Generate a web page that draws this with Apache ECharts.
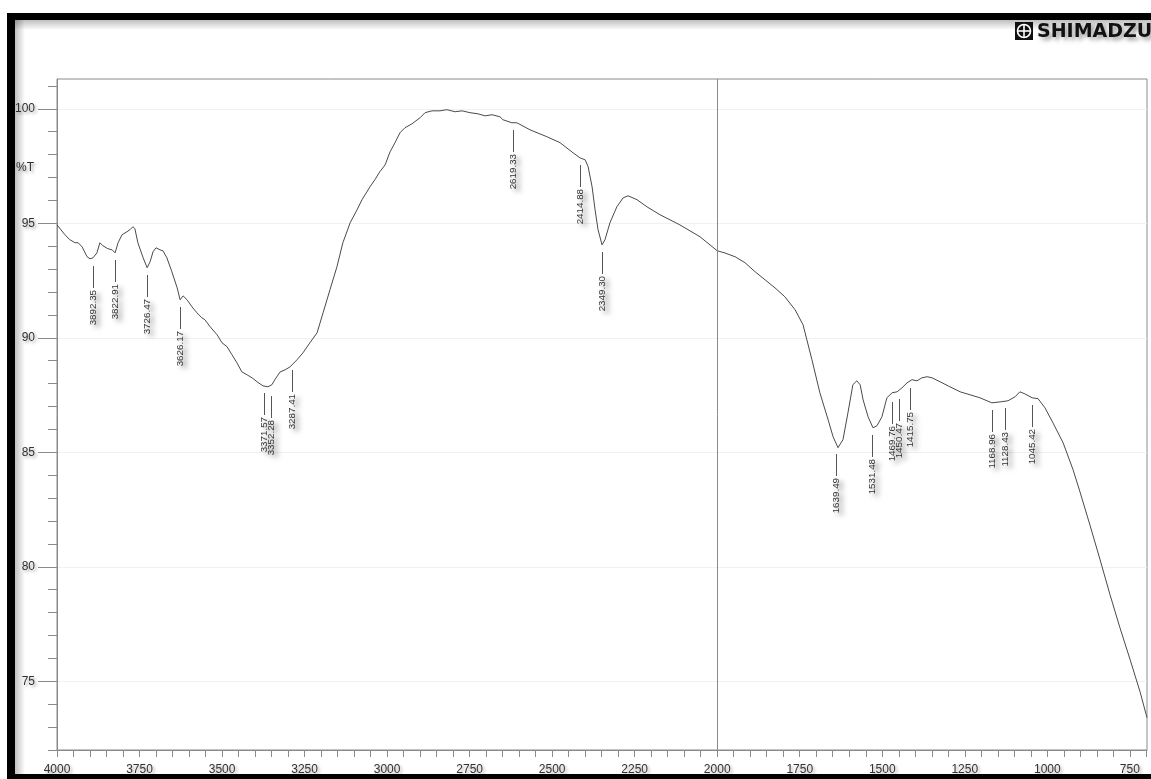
<!DOCTYPE html>
<html>
<head>
<meta charset="utf-8">
<title>IR spectrum</title>
<script src="https://cdn.jsdelivr.net/npm/echarts@6/dist/echarts.min.js"></script>
<style>
	html, body {margin: 0; padding: 0; background: #fff;}
	#main {width: 1151px; height: 779px;}
</style>
</head>
<body>
<div id="main"></div>
<script>
// spectrum trace (cm-1, %T)
const wavenumber = [
	4000, 3976, 3961, 3945, 3936, 3924, 3909, 3900, 3891, 3879, 3870, 3861, 3846, 3833, 3824, 3815,
	3803, 3788, 3779, 3770, 3764, 3755, 3739, 3727, 3718, 3709, 3700, 3688, 3679, 3667, 3652, 3636,
	3627, 3618, 3606, 3591, 3576, 3561, 3552, 3536, 3515, 3500, 3485, 3470, 3455, 3440, 3424, 3409,
	3394, 3376, 3361, 3349, 3340, 3324, 3309, 3294, 3273, 3255, 3234, 3212, 3194, 3173, 3152, 3134,
	3112, 3091, 3076, 3052, 3037, 3022, 3006, 2991, 2976, 2961, 2946, 2925, 2900, 2885, 2864, 2840,
	2819, 2794, 2773, 2749, 2725, 2703, 2682, 2658, 2649, 2622, 2607, 2567, 2516, 2476, 2437, 2416,
	2400, 2391, 2379, 2370, 2361, 2349, 2340, 2325, 2304, 2285, 2270, 2243, 2213, 2173, 2113, 2052,
	2000, 1976, 1946, 1916, 1885, 1855, 1825, 1795, 1764, 1740, 1713, 1689, 1664, 1649, 1634, 1619,
	1604, 1589, 1577, 1567, 1558, 1543, 1528, 1516, 1501, 1486, 1470, 1455, 1440, 1425, 1410, 1395,
	1380, 1364, 1349, 1325, 1295, 1264, 1234, 1204, 1168, 1143, 1119, 1098, 1083, 1068, 1046, 1028,
	1007, 983, 952, 922, 901, 871, 840, 810, 780, 749, 719, 698
];
const transmittance = [
	94.93, 94.50, 94.28, 94.15, 94.15, 93.97, 93.54, 93.45, 93.49, 93.71, 94.15, 94.02, 93.89, 93.84, 93.71, 94.15,
	94.50, 94.63, 94.72, 94.85, 94.76, 94.15, 93.49, 93.06, 93.32, 93.76, 93.93, 93.84, 93.80, 93.49, 92.88, 92.18,
	91.66, 91.83, 91.66, 91.35, 91.09, 90.87, 90.79, 90.48, 90.13, 89.78, 89.61, 89.26, 88.91, 88.51, 88.38, 88.25,
	88.08, 87.90, 87.86, 87.95, 88.17, 88.51, 88.60, 88.73, 89.04, 89.34, 89.78, 90.22, 91.09, 92.10, 93.10, 94.15,
	95.02, 95.59, 96.03, 96.59, 96.90, 97.25, 97.55, 98.12, 98.52, 98.95, 99.17, 99.34, 99.61, 99.83, 99.91, 99.91,
	99.96, 99.87, 99.91, 99.83, 99.78, 99.69, 99.74, 99.65, 99.52, 99.39, 99.39, 99.08, 98.78, 98.52, 98.08, 97.86,
	97.77, 97.47, 96.59, 95.59, 94.72, 94.06, 94.28, 95.02, 95.72, 96.11, 96.20, 96.03, 95.72, 95.37, 94.93, 94.41,
	93.80, 93.70, 93.54, 93.28, 92.88, 92.53, 92.18, 91.79, 91.22, 90.57, 89.04, 87.60, 86.42, 85.68, 85.20, 85.55,
	86.72, 87.95, 88.12, 87.95, 87.29, 86.55, 86.07, 86.16, 86.55, 87.38, 87.60, 87.64, 87.82, 88.03, 88.17, 88.12,
	88.25, 88.30, 88.25, 88.08, 87.86, 87.64, 87.51, 87.38, 87.16, 87.20, 87.25, 87.42, 87.64, 87.55, 87.38, 87.34,
	86.94, 86.29, 85.41, 84.24, 83.27, 81.83, 80.30, 78.78, 77.34, 75.94, 74.54, 73.41
];

// picked peaks
const peakWn = [
	3892.35, 3822.91, 3726.47, 3626.17, 3371.57, 3352.28, 3287.41, 2619.33, 2414.88, 2349.30,
	1639.49, 1531.48, 1469.76, 1450.47, 1415.75, 1168.96, 1128.43, 1045.42
];
const peakT = [
	93.45, 93.71, 93.06, 91.66, 87.88, 87.76, 88.90, 99.39, 97.86, 94.06,
	85.25, 86.07, 87.50, 87.64, 88.10, 87.16, 87.22, 87.38
];

// axis ticks
const xTickLabels = [4000, 3750, 3500, 3250, 3000, 2750, 2500, 2250, 2000, 1750, 1500, 1250, 1000, 750];
const yTickLabels = [75, 80, 85, 90, 95, 100];

const xMinorTicks = [];
for (let v = 700; v <= 4000; v += 50) xMinorTicks.push(v);
const yMinorTicks = [];
for (let v = 72; v <= 101; v += 1) yMinorTicks.push(v);

const spectrum = wavenumber.map((w, i) => [w, transmittance[i]]);
const peaks = peakWn.map((w, i) => [w, peakT[i]]);

const shadowText = {
	textShadowColor: 'rgba(0,0,0,0.35)',
	textShadowBlur: 3,
	textShadowOffsetX: 2,
	textShadowOffsetY: 2
};

const chart = echarts.init(document.getElementById('main'), null, {renderer: 'canvas'});

chart.setOption({
	backgroundColor: '#fff',
	animation: false,
	grid: {
		left: 57,
		right: 4,
		top: 79,
		bottom: 29,
		show: true,
		borderColor: '#8a8a8a',
		borderWidth: 1
	},
	xAxis: {
		type: 'value',
		inverse: true,
		min: 698,
		max: 4000,
		axisLine: {show: true, lineStyle: {color: '#8a8a8a', width: 1}},
		axisTick: {show: true, length: 7, customValues: xMinorTicks, lineStyle: {color: '#8a8a8a'}},
		axisLabel: Object.assign({
			customValues: xTickLabels,
			formatter: v => String(v),
			margin: 14,
			fontSize: 12,
			color: '#333',
			fontFamily: 'Liberation Sans'
		}, shadowText),
		splitLine: {show: false}
	},
	yAxis: [
		{
			type: 'value',
			min: 72,
			max: 101.3,
			position: 'left',
			axisLine: {show: true, lineStyle: {color: '#8a8a8a', width: 1}},
			axisTick: {show: true, length: 19, customValues: yTickLabels, lineStyle: {color: '#8a8a8a'}},
			axisLabel: Object.assign({
				customValues: yTickLabels,
				formatter: v => String(v),
				margin: 22,
				fontSize: 12,
				color: '#333',
				fontFamily: 'Liberation Sans'
			}, shadowText),
			splitLine: {show: true, lineStyle: {color: '#f1f1f1', width: 1}}
		},
		{
			type: 'value',
			min: 72,
			max: 101.3,
			position: 'left',
			axisLine: {show: false},
			axisTick: {show: true, length: 9, customValues: yMinorTicks, lineStyle: {color: '#8a8a8a'}},
			axisLabel: {show: false},
			splitLine: {show: false}
		}
	],
	series: [
		{
			type: 'line',
			data: spectrum,
			symbol: 'none',
			lineStyle: {color: '#4a4a4a', width: 1},
			silent: true,
			markLine: {
				silent: true,
				symbol: 'none',
				label: {show: false},
				lineStyle: {color: '#8a8a8a', width: 1, type: 'solid'},
				data: [{xAxis: 2000}]
			}
		},
		{
			type: 'custom',
			data: peaks,
			silent: true,
			renderItem: function (params, api) {
				const p = api.coord([api.value(0), api.value(1)]);
				const x = Math.round(p[0]) + 0.5;
				const y = Math.round(p[1]);
				return {
					type: 'group',
					children: [
						{
							type: 'line',
							shape: {x1: x, y1: y + 7, x2: x, y2: y + 29},
							style: {stroke: '#555', lineWidth: 1}
						},
						{
							// condensed vertical label
							type: 'text',
							x: x,
							y: y + 31,
							rotation: Math.PI / 2,
							scaleX: 1.15,
							style: {
								text: api.value(0).toFixed(2),
								fontSize: 8.5,
								fontFamily: 'Liberation Sans',
								fill: '#333',
								align: 'right',
								verticalAlign: 'middle',
								textShadowColor: 'rgba(0,0,0,0.55)',
								textShadowBlur: 5,
								textShadowOffsetX: 4,
								textShadowOffsetY: 3
							}
						}
					]
				};
			}
		}
	],
	graphic: [
		// frame shading
		{
			type: 'rect', left: 15, top: 20, z: 90,
			shape: {width: 10, height: 759},
			style: {fill: new echarts.graphic.LinearGradient(0, 0, 1, 0, [
				{offset: 0, color: 'rgba(0,0,0,0.25)'}, {offset: 1, color: 'rgba(0,0,0,0)'}
			])}
		},
		{
			type: 'rect', left: 15, top: 20, z: 90,
			shape: {width: 1136, height: 10},
			style: {fill: new echarts.graphic.LinearGradient(0, 0, 0, 1, [
				{offset: 0, color: 'rgba(0,0,0,0.25)'}, {offset: 1, color: 'rgba(0,0,0,0)'}
			])}
		},
		// black frame
		{type: 'rect', left: 7, top: 13, z: 100, shape: {width: 8, height: 766}, style: {fill: '#000'}},
		{type: 'rect', left: 7, top: 13, z: 100, shape: {width: 1144, height: 7}, style: {fill: '#000'}},
		{type: 'rect', left: 7, top: 774, z: 100, shape: {width: 1144, height: 5}, style: {fill: '#000'}},
		// %T
		{
			type: 'text', x: 16, y: 168, z: 100,
			style: Object.assign({
				text: '%T', fontSize: 12, fontFamily: 'Liberation Sans', fill: '#333', verticalAlign: 'middle'
			}, shadowText)
		},
		// logo
		{type: 'rect', x: 1015, y: 22, z: 100, shape: {width: 18, height: 18}, style: {fill: '#111'}},
		{type: 'circle', z: 101, shape: {cx: 1024, cy: 31, r: 6.5}, style: {fill: 'none', stroke: '#fff', lineWidth: 1.6}},
		{type: 'line', z: 101, shape: {x1: 1024, y1: 24.5, x2: 1024, y2: 37.5}, style: {stroke: '#fff', lineWidth: 1.6}},
		{type: 'line', z: 101, shape: {x1: 1017.5, y1: 31, x2: 1030.5, y2: 31}, style: {stroke: '#fff', lineWidth: 1.6}},
		{
			type: 'text', x: 1037, y: 32, z: 100,
			style: {
				text: 'SHIMADZU',
				fontSize: 19,
				fontWeight: 'bold',
				fontFamily: 'DejaVu Sans',
				fill: '#111',
				verticalAlign: 'middle',
				textShadowColor: 'rgba(0,0,0,0.4)',
				textShadowBlur: 4,
				textShadowOffsetX: 3,
				textShadowOffsetY: 3
			}
		}
	]
});
</script>
</body>
</html>
